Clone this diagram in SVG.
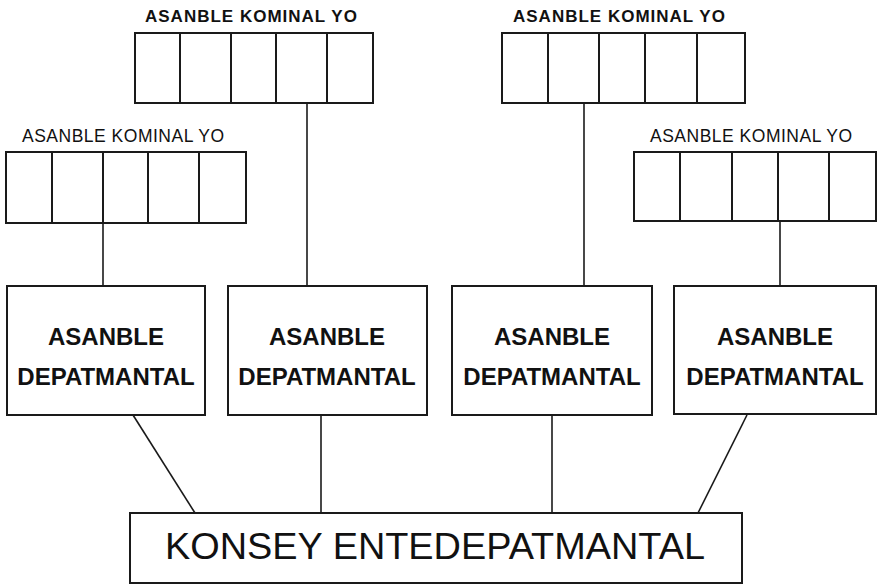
<svg xmlns="http://www.w3.org/2000/svg" width="880" height="586" viewBox="0 0 880 586">
<style>
.box{fill:none;stroke:#1a1a1a;stroke-width:2}
.div{stroke:#1a1a1a;stroke-width:2}
.con{stroke:#1a1a1a;stroke-width:1.6;fill:none}
.lblb{font-family:"Liberation Sans",Arial,sans-serif;font-weight:bold;font-size:17px;fill:#111;letter-spacing:1px}
.lblr{font-family:"Liberation Sans",Arial,sans-serif;font-size:17.5px;fill:#111;letter-spacing:0.5px}
.dep{font-family:"Liberation Sans",Arial,sans-serif;font-weight:bold;font-size:24px;fill:#111;text-anchor:middle}
.kon{font-family:"Liberation Sans",Arial,sans-serif;font-size:36px;fill:#111;text-anchor:middle}
</style>
<rect width="880" height="586" fill="#fff"/>
<g id="connectors">
<line class="con" x1="103" y1="223" x2="103" y2="286"/>
<line class="con" x1="307" y1="103" x2="307" y2="286"/>
<line class="con" x1="584" y1="103" x2="584" y2="286"/>
<line class="con" x1="780" y1="221" x2="780" y2="286"/>
<line class="con" x1="133" y1="415" x2="195" y2="513"/>
<line class="con" x1="321" y1="415" x2="321" y2="513"/>
<line class="con" x1="552" y1="415" x2="552" y2="513"/>
<line class="con" x1="747" y1="415" x2="698" y2="513"/>
</g>
<g id="kominal-a">
<text class="lblr" x="22" y="142">ASANBLE KOMINAL YO</text>
<rect class="box" x="6" y="152" width="240" height="71"/>
<line class="div" x1="52" y1="152" x2="52" y2="223"/>
<line class="div" x1="103" y1="152" x2="103" y2="223"/>
<line class="div" x1="148" y1="152" x2="148" y2="223"/>
<line class="div" x1="199" y1="152" x2="199" y2="223"/>
</g>
<g id="kominal-b">
<text class="lblb" x="145" y="22">ASANBLE KOMINAL YO</text>
<rect class="box" x="135" y="33" width="238" height="70"/>
<line class="div" x1="180" y1="33" x2="180" y2="103"/>
<line class="div" x1="231" y1="33" x2="231" y2="103"/>
<line class="div" x1="276" y1="33" x2="276" y2="103"/>
<line class="div" x1="327" y1="33" x2="327" y2="103"/>
</g>
<g id="kominal-c">
<text class="lblb" x="513" y="22">ASANBLE KOMINAL YO</text>
<rect class="box" x="502" y="33" width="243" height="70"/>
<line class="div" x1="548" y1="33" x2="548" y2="103"/>
<line class="div" x1="599" y1="33" x2="599" y2="103"/>
<line class="div" x1="645" y1="33" x2="645" y2="103"/>
<line class="div" x1="697" y1="33" x2="697" y2="103"/>
</g>
<g id="kominal-d">
<text class="lblr" x="650" y="142">ASANBLE KOMINAL YO</text>
<rect class="box" x="634" y="152" width="242" height="69"/>
<line class="div" x1="680" y1="152" x2="680" y2="221"/>
<line class="div" x1="732" y1="152" x2="732" y2="221"/>
<line class="div" x1="778" y1="152" x2="778" y2="221"/>
<line class="div" x1="829" y1="152" x2="829" y2="221"/>
</g>
<g id="dept-1">
<rect class="box" x="7" y="286" width="198" height="129"/>
<text class="dep" x="106" y="345">ASANBLE</text>
<text class="dep" x="106" y="385">DEPATMANTAL</text>
</g>
<g id="dept-2">
<rect class="box" x="228" y="286" width="199" height="129"/>
<text class="dep" x="327" y="345">ASANBLE</text>
<text class="dep" x="327" y="385">DEPATMANTAL</text>
</g>
<g id="dept-3">
<rect class="box" x="452" y="286" width="200" height="129"/>
<text class="dep" x="552" y="345">ASANBLE</text>
<text class="dep" x="552" y="385">DEPATMANTAL</text>
</g>
<g id="dept-4">
<rect class="box" x="674" y="286" width="202" height="128"/>
<text class="dep" x="775" y="345">ASANBLE</text>
<text class="dep" x="775" y="385">DEPATMANTAL</text>
</g>
<g id="konsey">
<rect class="box" x="130" y="513" width="612" height="70"/>
<text class="kon" x="435" y="559" textLength="540" lengthAdjust="spacingAndGlyphs">KONSEY ENTEDEPATMANTAL</text>
</g>
</svg>
